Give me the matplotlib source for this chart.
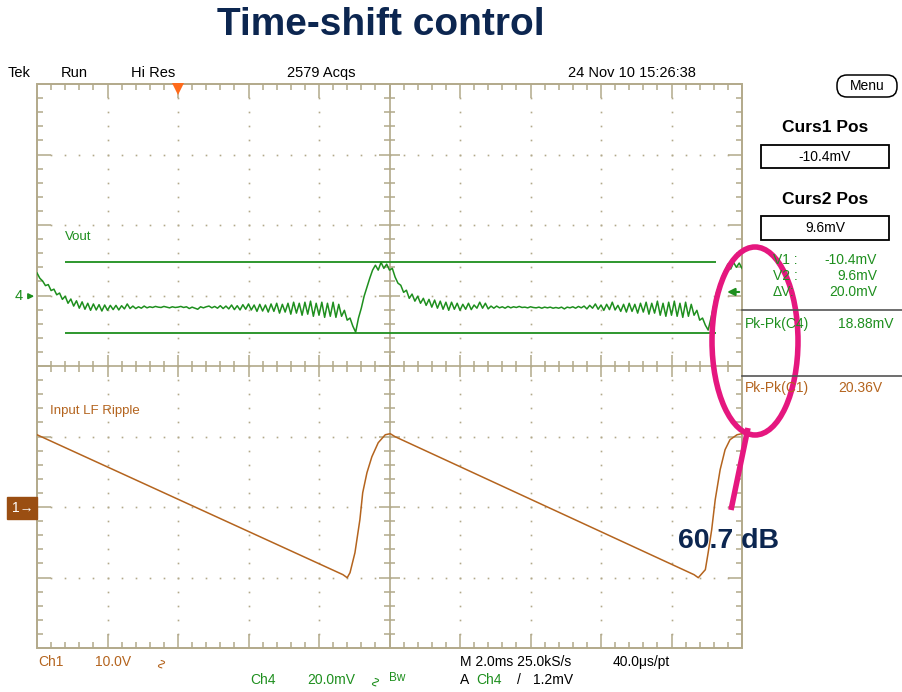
import matplotlib

matplotlib.use("Agg")
import matplotlib.pyplot as plt
import matplotlib.transforms as mtransforms
import numpy as np
from matplotlib.patches import Rectangle, Ellipse, FancyBboxPatch

# scope settings (per division)
MS_PER_DIV = 2.0
SAMPLES_PER_DIV = 25
CH4_MV_PER_DIV = 20.0
CH4_POS_DIV = 0.99
CH1_V_PER_DIV = 10.0
CH1_POS_DIV = -2.01

# Ch4 - Vout ripple, mV, 25 samples per division
ch4_mv = [
    6.6, 5.1, 4.3, 3.0, 3.3, 1.6, 2.0, 0.4, 0.9, -0.9,
    0.0, -2.0, -0.8, -2.8, -1.3, -3.4, -1.6, -3.7, -2.0, -4.0,
    -2.2, -3.9, -2.4, -4.2, -2.5, -4.0, -2.6, -3.8, -2.6, -3.9,
    -2.7, -3.6, -2.2, -3.5, -2.8, -3.5, -3.0, -3.4, -2.8, -3.3,
    -3.0, -3.2, -2.9, -3.1, -3.2, -2.9, -3.1, -3.3, -3.0, -3.2,
    -3.1, -2.9, -3.2, -3.0, -3.5, -3.1, -3.4, -3.7, -3.0, -3.3,
    -3.0, -2.8, -3.3, -2.9, -3.4, -2.7, -3.5, -2.8, -3.6, -2.5,
    -3.8, -2.7, -3.9, -2.4, -3.7, -2.2, -3.9, -2.5, -4.3, -2.3,
    -4.2, -2.5, -4.5, -2.2, -4.3, -2.0, -4.8, -2.3, -4.5, -2.0,
    -5.1, -1.7, -4.8, -2.0, -5.4, -1.7, -5.1, -1.4, -5.7, -2.0,
    -5.4, -1.7, -6.0, -2.0, -5.7, -1.7, -6.0, -2.3, -5.7, -4.0,
    -6.8, -6.2, -8.5, -10.2, -6.2, -3.4, 0.0, 2.6, 5.1, 7.4,
    8.8, 7.4, 9.6, 7.9, 9.1, 7.4, 7.9, 5.4, 3.7, 3.1,
    1.1, 1.7, -0.6, 0.6, -1.4, 0.0, -2.0, -0.6, -2.6, -0.9,
    -3.1, -1.1, -3.4, -1.4, -3.7, -1.7, -4.0, -1.7, -3.7, -2.0,
    -4.0, -2.3, -3.7, -2.0, -3.8, -2.5, -3.4, -1.7, -3.4, -2.0,
    -3.6, -2.8, -3.4, -2.8, -3.3, -3.0, -3.4, -2.9, -3.3, -3.0,
    -3.2, -2.9, -3.2, -3.1, -3.3, -3.0, -3.2, -3.3, -3.1, -3.4,
    -3.1, -3.3, -3.1, -3.4, -3.2, -3.4, -3.1, -3.6, -3.1, -3.3,
    -3.0, -3.4, -2.9, -3.3, -2.8, -3.6, -2.6, -3.4, -2.2, -3.7,
    -2.5, -4.0, -2.3, -3.8, -1.7, -3.9, -2.6, -4.3, -2.3, -4.5,
    -2.0, -4.3, -2.3, -4.8, -2.0, -4.5, -1.7, -5.1, -2.0, -4.8,
    -1.4, -5.4, -2.0, -5.7, -1.7, -5.4, -1.4, -5.7, -2.0, -6.0,
    -1.7, -5.7, -2.3, -5.4, -4.0, -6.8, -6.2, -8.2, -9.6, -6.2,
    -2.6, 1.1, 3.4, 5.7, 7.4, 9.1, 7.7, 9.6, 8.2, 9.4, 7.9,
]
ch4_t_ms = np.arange(len(ch4_mv)) * MS_PER_DIV / SAMPLES_PER_DIV

# Ch1 - input LF ripple (sawtooth), corner points
ch1_t_ms = [0.0, 8.68, 8.80, 8.88, 9.02, 9.16, 9.24, 9.36, 9.50, 9.68, 9.88,
            10.02, 10.16, 18.64, 18.76, 18.96, 19.04, 19.14, 19.24, 19.38,
            19.52, 19.66, 19.86, 20.0]
ch1_v = [10.35, -9.50, -9.93, -9.22, -6.38, -1.70, 2.13, 4.96, 7.23, 9.22,
         10.35, 10.50, 10.07, -9.50, -9.93, -8.79, -6.38, -3.12, 1.13, 5.39,
         8.23, 9.65, 10.35, 10.50]

cursor_mv = [-10.4, 9.6]
cursor_span_ms = [0.8, 19.25]
trig_level_mv = 1.2
trig_pos_ms = 4.0

header = ["Tek", "Run", "Hi Res", "2579 Acqs", "24 Nov 10 15:26:38"]
header_x = [8, 61, 131, 287, 568]
cursor_rows = [("V1 :", "-10.4mV"), ("V2 :", "9.6mV"), ("\u0394V:", "20.0mV")]
pk_c4 = ("Pk-Pk(C4)", "18.88mV")
pk_c1 = ("Pk-Pk(C1)", "20.36V")

GRAT = "#b2a98a"
GREEN = "#1e8f1e"
BROWN = "#b4641e"
PINK = "#e5177f"
NAVY = "#0c2650"
FONT = "Liberation Sans"

W, H = 902, 692
fig = plt.figure(figsize=(W / 100, H / 100), dpi=100)
fig.patch.set_facecolor("white")

# graticule area in pixels
X0, X1, Y0, Y1 = 37, 742, 84, 648
rect = [X0 / W, 1 - Y1 / H, (X1 - X0) / W, (Y1 - Y0) / H]
PX_DIV = (X1 - X0) / 10.0

# graticule
ag = fig.add_axes(rect)
ag.set_xlim(0, 10)
ag.set_ylim(-4, 4)
ag.axis("off")
ag.add_patch(Rectangle((0, -4), 10, 8, fill=False, ec=GRAT, lw=1.4, clip_on=False))
ag.axvline(5, color=GRAT, lw=1.2)
ag.axhline(0, color=GRAT, lw=1.2)

minor = 6 / PX_DIV
major = 14 / PX_DIV
xs = np.round(np.arange(0, 10.001, 0.2), 2)
ys = np.round(np.arange(-4, 4.001, 0.2), 2)
for gx in range(1, 10):
    if gx == 5:
        continue
    ag.plot([gx] * len(ys[1:-1]), ys[1:-1], ls="none", marker="s", ms=1.2, mew=0, color=GRAT)
for gy in range(-3, 4):
    if gy == 0:
        continue
    ag.plot(xs[1:-1], [gy] * len(xs[1:-1]), ls="none", marker="s", ms=1.2, mew=0, color=GRAT)

for x in xs[1:-1]:
    L = major if abs(x - round(x)) < 1e-6 else minor
    ag.vlines(x, 4 - L, 4, color=GRAT, lw=1.1)
    ag.vlines(x, -4, -4 + L, color=GRAT, lw=1.1)
    c = (11 if abs(x - round(x)) < 1e-6 else 5.5) / PX_DIV
    ag.vlines(x, -c, c, color=GRAT, lw=1.1)
for y in ys[1:-1]:
    L = major if abs(y - round(y)) < 1e-6 else minor
    ag.hlines(y, 0, L, color=GRAT, lw=1.1)
    ag.hlines(y, 10 - L, 10, color=GRAT, lw=1.1)
    c = (11 if abs(y - round(y)) < 1e-6 else 5.5) / PX_DIV
    ag.hlines(y, 5 - c, 5 + c, color=GRAT, lw=1.1)

# Ch1 axes (volts)
ax1 = fig.add_axes(rect, frameon=False)
ax1.set_xlim(0, 10 * MS_PER_DIV)
ax1.set_ylim((-4 - CH1_POS_DIV) * CH1_V_PER_DIV, (4 - CH1_POS_DIV) * CH1_V_PER_DIV)
ax1.axis("off")
ax1.plot(ch1_t_ms, ch1_v, color=BROWN, lw=1.1)
ax1.text(-0.72, 0, "1\u2192", ha="left", va="center", color="white", fontsize=10,
         family=FONT, clip_on=False,
         bbox=dict(boxstyle="square,pad=0.3", fc="#9a4e12", ec="#9a4e12"))

# Ch4 axes (mV)
ax4 = fig.add_axes(rect, frameon=False)
ax4.set_xlim(0, 10 * MS_PER_DIV)
ax4.set_ylim((-4 - CH4_POS_DIV) * CH4_MV_PER_DIV, (4 - CH4_POS_DIV) * CH4_MV_PER_DIV)
ax4.axis("off")
ax4.plot(ch4_t_ms, ch4_mv, color=GREEN, lw=1.1)
for c in cursor_mv:
    ax4.hlines(c, cursor_span_ms[0], cursor_span_ms[1], color=GREEN, lw=1.3)
ax4.text(-0.51, 0, "4", ha="center", va="center", color=GREEN, fontsize=10.5,
         family=FONT, clip_on=False)
ax4.annotate("", xy=(0, 0), xytext=(-0.3, 0), annotation_clip=False,
             arrowprops=dict(arrowstyle="-|>", color=GREEN, lw=1.2, mutation_scale=8))
ax4.annotate("", xy=(19.5, trig_level_mv), xytext=(20, trig_level_mv),
             annotation_clip=False,
             arrowprops=dict(arrowstyle="-|>", color=GREEN, lw=1.5, mutation_scale=11))
trans = mtransforms.blended_transform_factory(ax4.transData, ax4.transAxes)
ax4.plot(trig_pos_ms, 0.992, marker="v", ms=8, mew=0, color="#ff6a1a",
         transform=trans, clip_on=False)

# overlay in pixel coords for labels and annotation
ov = fig.add_axes([0, 0, 1, 1])
ov.set_xlim(0, W)
ov.set_ylim(H, 0)
ov.axis("off")


def txt(x, y, s, **kw):
    kw.setdefault("fontsize", 10)
    kw.setdefault("family", FONT)
    ov.text(x, y, s, va="center", **kw)


ov.text(381, 25, "Time-shift control", ha="center", va="center", color=NAVY,
        fontsize=28, fontweight="bold", family=FONT)

for x, s in zip(header_x, header):
    txt(x, 73, s, color="black", fontsize=10.5)

txt(65, 237, "Vout", color=GREEN, fontsize=9.5)
txt(50, 411, "Input LF Ripple", color=BROWN, fontsize=9.5)

# right panel
ov.add_patch(FancyBboxPatch((837, 75), 60, 22, boxstyle="round,pad=0,rounding_size=10",
                            fc="white", ec="black", lw=1.1))
txt(867, 86, "Menu", ha="center", color="black", fontsize=10)
txt(825, 127, "Curs1 Pos", ha="center", color="black", fontsize=12.5, fontweight="bold")
ov.add_patch(Rectangle((761, 145), 128, 23, fill=False, ec="black", lw=1.3))
txt(825, 157, "-10.4mV", ha="center", color="black")
txt(825, 200, "Curs2 Pos", ha="center", color="black", fontsize=12.5, fontweight="bold")
ov.add_patch(Rectangle((761, 216), 128, 24, fill=False, ec="black", lw=1.3))
txt(825, 228, "9.6mV", ha="center", color="black")

for i, (lab, val) in enumerate(cursor_rows):
    txt(773, 260 + 16 * i, lab, color=GREEN)
    txt(877, 260 + 16 * i, val, ha="right", color=GREEN)
ov.plot([742, 902], [310, 310], color="#555555", lw=1.2)
txt(745, 324, pk_c4[0], color=GREEN)
txt(838, 324, pk_c4[1], color=GREEN)
ov.plot([742, 902], [376, 376], color="#555555", lw=1.2)
txt(745, 388, pk_c1[0], color=BROWN)
txt(838, 388, pk_c1[1], color=BROWN)

# bottom status lines
txt(38, 662, "Ch1", color=BROWN)
txt(95, 662, "10.0V", color=BROWN)
txt(154, 662, "\u223f", color=BROWN, family="DejaVu Sans", fontsize=10, rotation=90)
txt(250, 680, "Ch4", color=GREEN)
txt(307, 680, "20.0mV", color=GREEN)
txt(368, 680, "\u223f", color=GREEN, family="DejaVu Sans", fontsize=10, rotation=90)
txt(389, 678, "Bw", color=GREEN, fontsize=8.5)
txt(460, 662, "M 2.0ms 25.0kS/s", color="black")
txt(613, 662, "40.0\u03bcs/pt", color="black")
txt(460, 680, "A", color="black")
txt(476, 680, "Ch4", color=GREEN)
txt(517, 680, "/", color="black")
txt(533, 680, "1.2mV", color="black")

# highlight annotation
ov.add_patch(Ellipse((755, 341), 86, 188, fill=False, ec=PINK, lw=4))
ov.plot([748, 731], [428, 510], color=PINK, lw=4, solid_capstyle="butt")
ov.text(678, 541, "60.7 dB", ha="left", va="center", color=NAVY,
        fontsize=20.5, fontweight="bold", family=FONT)

fig.savefig("out.png", dpi=100)
plt.close(fig)
